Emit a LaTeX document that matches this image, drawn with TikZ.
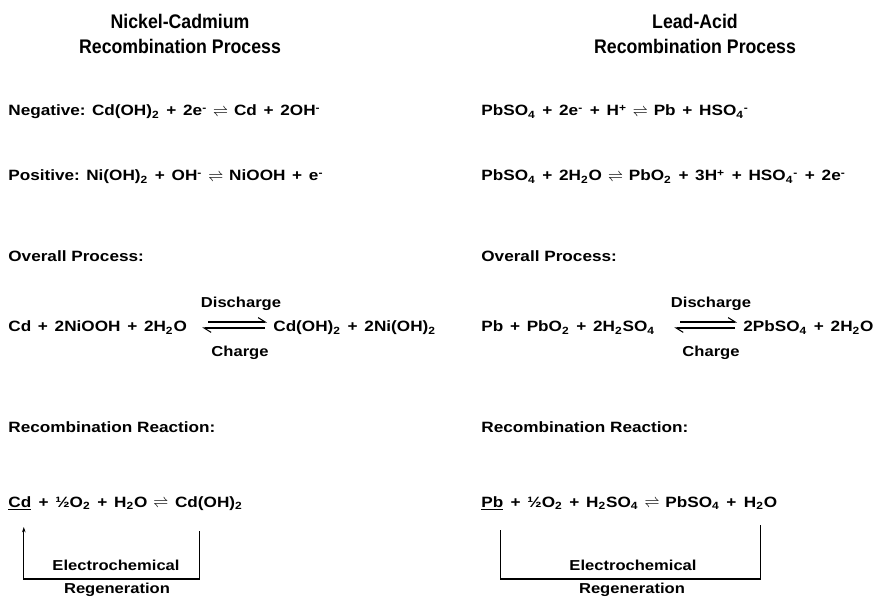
\documentclass[tikz,border=0pt]{standalone}
\usepackage{fontspec}
\setmainfont{Liberation Sans}
\newfontfamily\widefont{Liberation Sans}[FakeStretch=1.15]
\newfontfamily\headfont{Liberation Sans}[FakeStretch=0.9]
\usetikzlibrary{arrows.meta}
\newcommand{\sbs}[1]{\textsubscript{#1}}
\newcommand{\sps}[1]{\textsuperscript{#1}}
\newcommand{\eqm}{\kern.4em$\rightleftharpoons$\kern.4em}
\newcommand{\pl}{\kern.45em+\kern.45em}

\begin{document}
\begin{tikzpicture}[x=0.02cm,y=-0.02cm]
	\tikzstyle{title} = [font=\headfont\fontsize{11.2}{13}\selectfont\bfseries,anchor=base,inner sep=0pt]
	\tikzstyle{eqn} = [font=\widefont\fontsize{8.5}{10}\selectfont\bfseries,anchor=base west,inner sep=0pt]
	\tikzstyle{lbl} = [font=\widefont\fontsize{8.2}{10}\selectfont\bfseries,anchor=base,inner sep=0pt]
	\tikzstyle{harp} = [line width=0.6pt,-{Straight Barb[harpoon,length=4pt,width=5pt]}]
	\tikzstyle{regen} = [line width=0.6pt]
	\useasboundingbox (0,0) rectangle (875,597);
	% titles
	\node[title] (titleL) at (180,29) {Nickel-Cadmium};
	\node[title] (subL) at (180,54) {Recombination Process};
	\node[title] (titleR) at (695,29) {Lead-Acid};
	\node[title] (subR) at (695,54) {Recombination Process};
	% half reactions
	\node[eqn] (negL) at (8,116) {Negative: Cd(OH)\sbs{2}\pl2e\sps{-}\eqm Cd\pl2OH\sps{-}};
	\node[eqn] (posL) at (8,181) {Positive: Ni(OH)\sbs{2}\pl OH\sps{-}\eqm NiOOH\pl e\sps{-}};
	\node[eqn] (negR) at (481,116) {PbSO\sbs{4}\pl2e\sps{-}\pl H\sps{+}\eqm Pb\pl HSO\sbs{4}\sps{-}};
	\node[eqn] (posR) at (481,181) {PbSO\sbs{4}\pl2H\sbs{2}O\eqm PbO\sbs{2}\pl3H\sps{+}\pl HSO\sbs{4}\sps{-}\pl2e\sps{-}};
	% overall process
	\node[eqn] (ovL) at (8,262) {Overall Process:};
	\node[eqn] (ovR) at (481,262) {Overall Process:};
	\node[eqn] (reacL) at (8,332) {Cd\pl2NiOOH\pl2H\sbs{2}O};
	\node[eqn] (prodL) at (273,332) {Cd(OH)\sbs{2}\pl2Ni(OH)\sbs{2}};
	\node[lbl] (disL) at (241,308) {Discharge};
	\node[lbl] (chgL) at (240,357) {Charge};
	\draw[harp] ([shift={(21,-10)}]reacL.base east) -- ([shift={(-6,-10)}]prodL.base west);
	\draw[harp] ([shift={(-8,-4)}]prodL.base west) -- ([shift={(15,-4)}]reacL.base east);
	\node[eqn] (reacR) at (481,332) {Pb\pl PbO\sbs{2}\pl2H\sbs{2}SO\sbs{4}};
	\node[eqn] (prodR) at (743,332) {2PbSO\sbs{4}\pl2H\sbs{2}O};
	\node[lbl] (disR) at (711,308) {Discharge};
	\node[lbl] (chgR) at (711,357) {Charge};
	\draw[harp] ([shift={(25,-10)}]reacR.base east) -- ([shift={(-6,-10)}]prodR.base west);
	\draw[harp] ([shift={(-8,-4)}]prodR.base west) -- ([shift={(19,-4)}]reacR.base east);
	% recombination
	\node[eqn] (rcL) at (8,433) {Recombination Reaction:};
	\node[eqn] (rcR) at (481,433) {Recombination Reaction:};
	\node[eqn] (cdL) at (8,507) {\underline{Cd}};
	\node[eqn] (restL) at (cdL.base east) {\pl½O\sbs{2}\pl H\sbs{2}O\eqm};
	\node[eqn] (cdohL) at (restL.base east) {Cd(OH)\sbs{2}};
	\node[eqn] (pbR) at (481,507) {\underline{Pb}};
	\node[eqn] (restR) at (pbR.base east) {\pl½O\sbs{2}\pl H\sbs{2}SO\sbs{4}\eqm PbSO\sbs{4}\pl};
	\node[eqn] (h2oR) at (restR.base east) {H\sbs{2}O};
	% regeneration brackets
	\coordinate (botL) at (116,579);
	\coordinate (botR) at (632,579);
	\draw[regen,-{Stealth[length=3pt,width=2pt]}] ([shift={(-9,24)}]cdohL.base) |- (botL) -| ([shift={(4,20)}]cdL.base);
	\node[lbl] (elL) at (116,570) {Electrochemical};
	\node[lbl] (rgL) at (117,593) {Regeneration};
	\draw[regen] ([shift={(0,18)}]h2oR.base) |- (botR) -| ([shift={(8,23)}]pbR.base);
	\node[lbl] (elR) at (633,570) {Electrochemical};
	\node[lbl] (rgR) at (632,593) {Regeneration};
\end{tikzpicture}
\end{document}
